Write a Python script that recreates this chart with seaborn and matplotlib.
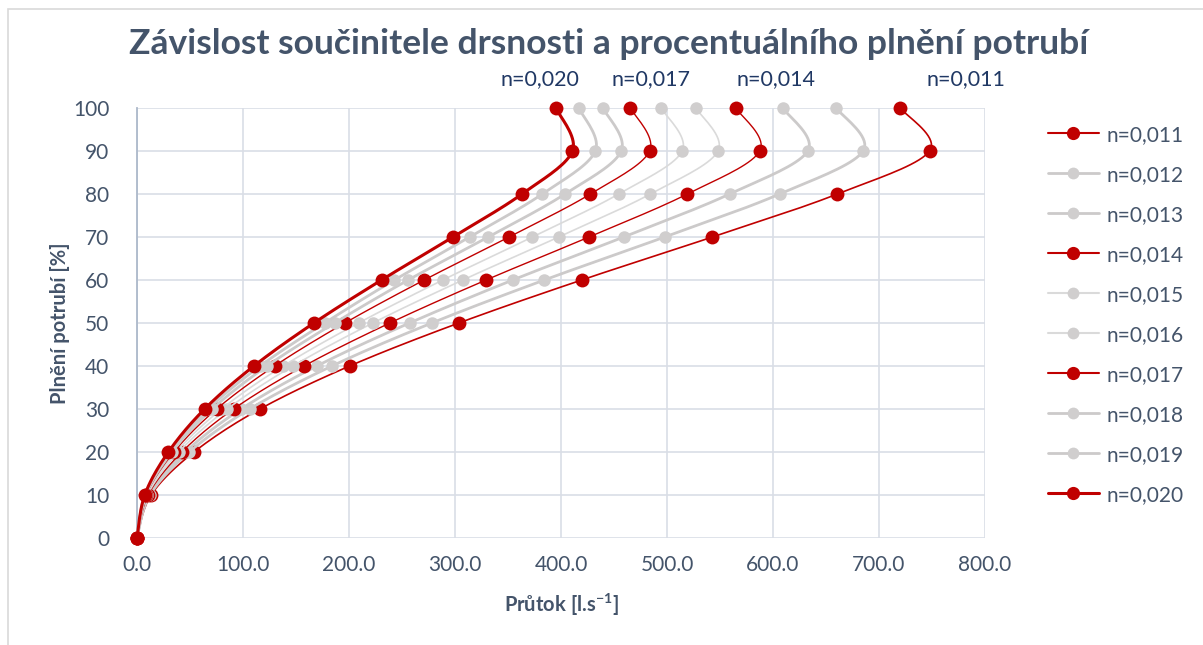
#%%
# import required libraries
import seaborn as sns
import matplotlib.pyplot as plt
import matplotlib.patches as mpatches
from matplotlib.lines import Line2D
import pandas as pd
import numpy as np

#%%
# data: fill [%] and flow [l/s] for each roughness coefficient n
fill = [0, 10, 20, 30, 40, 50, 60, 70, 80, 90, 100]
labels = ['n=0,011', 'n=0,012', 'n=0,013', 'n=0,014', 'n=0,015',
          'n=0,016', 'n=0,017', 'n=0,018', 'n=0,019', 'n=0,020']

q_011 = [0, 13.3, 53.8, 116.0, 200.6, 303.6, 419.5, 542.8, 660.7, 747.7, 719.9]
q_012 = [0, 12.2, 49.3, 106.3, 183.9, 278.1, 384.3, 497.8, 606.3, 685.0, 659.6]
q_013 = [0, 11.3, 45.5, 98.2, 169.7, 257.1, 354.5, 459.1, 559.1, 632.8, 609.1]
q_014 = [0, 10.5, 42.3, 91.1, 157.6, 238.5, 329.3, 426.4, 519.2, 587.5, 564.8]
q_015 = [0, 9.8, 39.5, 85.1, 147.1, 222.5, 307.4, 397.8, 484.3, 548.1, 527.2]
q_016 = [0, 9.1, 37.0, 79.8, 137.9, 209.0, 288.5, 373.0, 454.4, 514.3, 494.4]
q_017 = [0, 8.6, 34.8, 75.1, 129.8, 196.1, 270.9, 350.9, 427.7, 483.6, 465.5]
q_018 = [0, 8.1, 32.9, 70.9, 122.6, 186.4, 255.8, 331.4, 403.8, 456.8, 439.4]
q_019 = [0, 7.7, 31.1, 67.2, 116.1, 177.0, 242.9, 313.8, 382.4, 432.4, 416.7]
q_020 = [0, 7.3, 29.6, 63.8, 110.3, 166.9, 230.7, 298.1, 363.2, 410.8, 395.1]

series = [q_011, q_012, q_013, q_014, q_015, q_016, q_017, q_018, q_019, q_020]

# labels written above the chart
top_labels = ['n=0,020', 'n=0,017', 'n=0,014', 'n=0,011']
top_label_x = [380, 485, 603, 782]

#%%
# styles: red highlighted series, grey in between
RED = '#C00000'
styles = [
    dict(color=RED, lw=1.2, mc=RED, ms=10),
    dict(color='#CCCACA', lw=2.0, mc='#D0CECE', ms=9),
    dict(color='#CCCACA', lw=2.0, mc='#D0CECE', ms=9),
    dict(color=RED, lw=1.0, mc=RED, ms=10),
    dict(color='#DADADA', lw=1.2, mc='#D0CECE', ms=9),
    dict(color='#DADADA', lw=1.2, mc='#D0CECE', ms=9),
    dict(color=RED, lw=1.0, mc=RED, ms=10),
    dict(color='#CCCACA', lw=2.0, mc='#D0CECE', ms=9),
    dict(color='#CCCACA', lw=2.0, mc='#D0CECE', ms=9),
    dict(color=RED, lw=2.2, mc=RED, ms=10),
]


def smooth(x, y, steps=20):
    # Excel-like smoothed line (Catmull-Rom / Bezier through the points)
    p = np.column_stack([x, y]).astype(float)
    p = np.vstack([p[0], p, p[-1]])
    out = []
    for i in range(1, len(p) - 2):
        b0 = p[i]
        b3 = p[i + 1]
        b1 = b0 + (p[i + 1] - p[i - 1]) / 6
        b2 = b3 - (p[i + 2] - p[i]) / 6
        t = np.linspace(0, 1, steps)[:, None]
        seg = ((1 - t) ** 3 * b0 + 3 * (1 - t) ** 2 * t * b1
               + 3 * (1 - t) * t ** 2 * b2 + t ** 3 * b3)
        out.append(seg if i == 1 else seg[1:])
    out = np.vstack(out)
    return out[:, 0], out[:, 1]


#%%
sns.set_theme(style='white')
plt.rcParams['font.family'] = ['Lato', 'DejaVu Sans']
TXT = '#44546A'

fig = plt.figure(figsize=(12.03, 6.45), dpi=100)
ax = fig.add_axes([137 / 1203, 1 - 538 / 645, (985 - 137) / 1203, (538 - 108) / 645])

handles = []
for i, (q, lab, st) in enumerate(zip(series, labels, styles)):
    sx, sy = smooth(q, fill)
    df_line = pd.DataFrame({'q': sx, 'fill': sy})
    sns.lineplot(data=df_line, x='q', y='fill', sort=False, estimator=None,
                 color=st['color'], linewidth=st['lw'], ax=ax, zorder=3 + i * 2)
    df_pts = pd.DataFrame({'q': q, 'fill': fill})
    sns.scatterplot(data=df_pts, x='q', y='fill', color=st['mc'], s=st['ms'] ** 2,
                    linewidth=0, ax=ax, zorder=4 + i * 2, clip_on=False)
    handles.append(Line2D([], [], color=st['color'], lw=max(st['lw'], 1.5),
                          marker='o', markersize=st['ms'] - 0.5,
                          markerfacecolor=st['mc'], markeredgewidth=0))

for line in ax.lines:
    line.set_clip_on(False)

ax.set_xlim(0, 800)
ax.set_ylim(0, 100)
ax.set_xticks(np.arange(0, 801, 100))
ax.set_xticklabels([f'{v:.1f}' for v in np.arange(0, 801, 100)])
ax.set_yticks(np.arange(0, 101, 10))
ax.grid(True, color='#D9DEE6', linewidth=1.2)
ax.set_axisbelow(True)
for side in ['top', 'right', 'bottom']:
    ax.spines[side].set_visible(False)
ax.spines['left'].set_color('#ADB9CA')
ax.spines['left'].set_linewidth(1.3)
ax.tick_params(axis='both', colors=TXT, labelsize=15, length=0)
ax.tick_params(axis='x', pad=12)
ax.tick_params(axis='y', pad=20)

ax.set_xlabel('Průtok [l.s$^{\\mathregular{-1}}$]', fontsize=14.5, fontweight='bold',
              color=TXT, labelpad=12)
ax.set_ylabel('Plnění potrubí [%]', fontsize=14.5, fontweight='bold',
              color=TXT, labelpad=2)

for lab, lx in zip(top_labels, top_label_x):
    ax.text(lx, 104.5, lab, ha='center', va='bottom', fontsize=15.5,
            color='#203864', clip_on=False)

fig.text(0.506, 1 - 44 / 645, 'Závislost součinitele drsnosti a procentuálního plnění potrubí',
         ha='center', va='center', fontsize=25.5, fontweight='bold', color=TXT)

leg = fig.legend(handles, labels, loc='upper left', bbox_to_anchor=(1029 / 1203, 1 - 106 / 645),
                 frameon=False, fontsize=15, handlelength=2.45, labelspacing=0.96,
                 handletextpad=0.35)
for t in leg.get_texts():
    t.set_color(TXT)

# chart frame
fig.patches.append(mpatches.Rectangle((8 / 1203, -0.02), 1.1, 1 - 9 / 645 + 0.02,
                                      transform=fig.transFigure, fill=False,
                                      edgecolor='#D9D9D9', linewidth=1.2))

plt.savefig('out.png', dpi=100)
